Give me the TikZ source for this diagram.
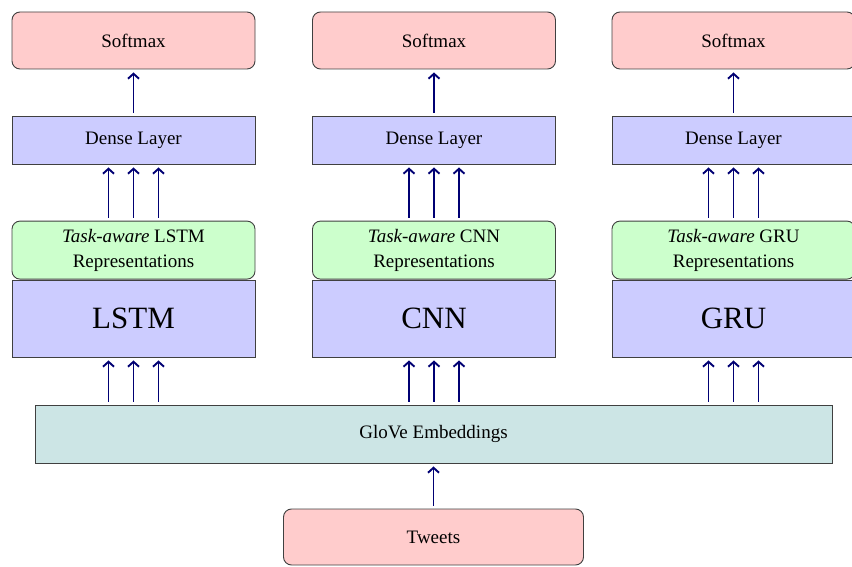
\documentclass[tikz,border=0pt]{standalone}
\usepackage{fontspec}
\setmainfont{Liberation Serif}
\usetikzlibrary{arrows.meta,positioning}

\begin{document}
\begin{tikzpicture}[x=1pt,y=-1pt,>={Straight Barb[length=5pt,width=11pt]},
	box/.style={draw=black!75,line width=0.9pt,minimum width=243pt,
		font=\fontsize{19}{25}\selectfont,align=center,inner sep=0pt},
	softbox/.style={box,fill=red!20,rounded corners=8pt,minimum height=57pt},
	densebox/.style={box,fill=blue!20,minimum height=48pt},
	repbox/.style={box,fill=green!20,rounded corners=8pt,minimum height=58pt},
	netbox/.style={box,fill=blue!20,minimum height=77pt,
		font=\fontsize{31}{36}\selectfont},
	arr/.style={->,color=blue!45!black,line width=1.9pt,
		shorten >=3pt,shorten <=3pt}]

\useasboundingbox (0,0) rectangle (852,567);

% input and embeddings
\node[box,fill=teal!20,minimum width=797pt,minimum height=58pt]
	(glove) at (433.5,434) {GloVe Embeddings};
\node[box,fill=red!20,rounded corners=8pt,minimum width=300pt,minimum height=56pt]
	(tweets) at (433.5,537) {Tweets};

\draw[arr] (tweets) -- (glove);

% one column per encoder
\foreach \N/\X in {LSTM/133.5,CNN/434,GRU/733.5}{
	\node[netbox] (net\N) at (\X,318.5) {\N};
	\node[repbox,above=0pt of net\N] (rep\N)
		{\textit{Task-aware} \N\\Representations};
	\node[densebox] (dense\N) at (\X,140) {Dense Layer};
	\node[softbox] (soft\N) at (\X,40.5) {Softmax};

	\foreach \d in {-25,0,25}{
		\draw[arr] ([xshift=\d pt]net\N.south |- glove.north)
			-- ([xshift=\d pt]net\N.south);
		\draw[arr] ([xshift=\d pt]rep\N.north)
			-- ([xshift=\d pt]dense\N.south);
	}

	\draw[arr] (dense\N) -- (soft\N);
}

\end{tikzpicture}
\end{document}
